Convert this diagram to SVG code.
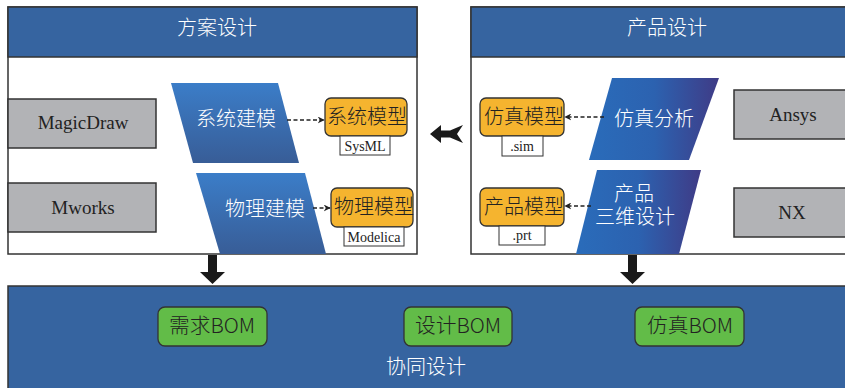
<svg xmlns="http://www.w3.org/2000/svg" width="845" height="388" viewBox="0 0 845 388">
<defs>
<linearGradient id="gV" x1="0" y1="0" x2="0" y2="1">
<stop offset="0" stop-color="#3b7dc8"/>
<stop offset="1" stop-color="#385d97"/>
</linearGradient>
<linearGradient id="gH" x1="0" y1="0" x2="1" y2="0">
<stop offset="0" stop-color="#2a6cba"/>
<stop offset="0.5" stop-color="#2c62b0"/>
<stop offset="1" stop-color="#3f3b86"/>
</linearGradient>
<marker id="ah" viewBox="0 0 10 10" refX="9" refY="5" markerWidth="7" markerHeight="7" orient="auto" markerUnits="userSpaceOnUse">
<path d="M0,0 L10,5 L0,10 L3,5 Z" fill="#222"/>
</marker>
</defs>
<style>
.panel{fill:#fff;stroke:#333;stroke-width:1.5}
.head{fill:#3664a0;stroke:#333;stroke-width:1.5}
.tool{fill:#b2b3b6;stroke:#333;stroke-width:1.5}
.model{fill:#f5b42f;stroke:#333;stroke-width:1.3}
.tag{fill:#fff;stroke:#333;stroke-width:1}
.bom{fill:#62bc48;stroke:#333;stroke-width:1.3}
.cjk{font-family:"Noto Sans CJK SC","Noto Sans",sans-serif;font-weight:300}
.wt{fill:#fff;font-size:20px;text-anchor:middle}
.bt{fill:#222;font-size:20px;text-anchor:middle}
.ser{font-family:"Liberation Serif","DejaVu Serif",serif;fill:#222;text-anchor:middle}
.dash{stroke:#222;stroke-width:1.5;stroke-dasharray:4 2.5;fill:none;marker-end:url(#ah)}
.big{fill:#1a1a1a}
</style>

<g id="panel-scheme">
<rect class="panel" x="8" y="7" width="409" height="247"/>
<rect class="head" x="8" y="7" width="409" height="50"/>
<text class="cjk wt" x="217" y="35">方案设计</text>
</g>

<g id="panel-product">
<rect class="panel" x="471" y="7" width="380" height="247"/>
<rect class="head" x="471" y="7" width="380" height="50"/>
<text class="cjk wt" x="667" y="35">产品设计</text>
</g>

<g id="panel-collab">
<rect class="head" x="8" y="286" width="843" height="110"/>
<text class="cjk wt" x="426" y="374">协同设计</text>
</g>

<g id="magicdraw">
<rect class="tool" x="8" y="99" width="148" height="49"/>
<text class="ser" x="83" y="129" font-size="19">MagicDraw</text>
</g>
<g id="mworks">
<rect class="tool" x="8" y="183" width="148" height="49"/>
<text class="ser" x="83" y="214" font-size="19">Mworks</text>
</g>

<g id="sys-modeling">
<polygon points="171,83 278,83 299,163 193,163" fill="url(#gV)"/>
<text class="cjk wt" x="236" y="126">系统建模</text>
</g>
<g id="phy-modeling">
<polygon points="196,173 305,173 326,254 220,254" fill="url(#gV)"/>
<text class="cjk wt" x="265" y="216">物理建模</text>
</g>

<g id="sys-model">
<rect class="model" x="325" y="98" width="82" height="38" rx="6"/>
<text class="cjk bt" x="367" y="124" font-size="21">系统模型</text>
<rect class="tag" x="340" y="136" width="50" height="19"/>
<text class="ser" x="365" y="151" font-size="14">SysML</text>
</g>
<g id="phy-model">
<rect class="model" x="331" y="188" width="82" height="39" rx="6"/>
<text class="cjk bt" x="374" y="214" font-size="21">物理模型</text>
<rect class="tag" x="344" y="227" width="60" height="19"/>
<text class="ser" x="374" y="242" font-size="14">Modelica</text>
</g>

<g id="sim-model">
<rect class="model" x="480" y="98" width="84" height="38" rx="6"/>
<text class="cjk bt" x="524" y="124" font-size="21">仿真模型</text>
<rect class="tag" x="502" y="136" width="41" height="20"/>
<text class="ser" x="522" y="151" font-size="14">.sim</text>
</g>
<g id="prod-model">
<rect class="model" x="480" y="188" width="84" height="38" rx="6"/>
<text class="cjk bt" x="524" y="214" font-size="21">产品模型</text>
<rect class="tag" x="499" y="226" width="46" height="19"/>
<text class="ser" x="522" y="240" font-size="14">.prt</text>
</g>

<g id="sim-analysis">
<polygon points="612,78 719,78 689,160 589,160" fill="url(#gH)"/>
<text class="cjk wt" x="654" y="126">仿真分析</text>
</g>
<g id="prod-3d">
<polygon points="597,170 701,170 679,254 576,254" fill="url(#gH)"/>
<text class="cjk wt" font-size="19"><tspan x="634" y="201">产品</tspan><tspan x="635" y="224">三维设计</tspan></text>
</g>

<g id="ansys">
<rect class="tool" x="734" y="90" width="120" height="49"/>
<text class="ser" x="793" y="121" font-size="19">Ansys</text>
</g>
<g id="nx">
<rect class="tool" x="734" y="188" width="120" height="49"/>
<text class="ser" x="792" y="219" font-size="19">NX</text>
</g>

<g id="bom-req">
<rect class="bom" x="158" y="307" width="109" height="39" rx="7"/>
<text class="cjk bt" x="212" y="333" textLength="86" lengthAdjust="spacingAndGlyphs">需求BOM</text>
</g>
<g id="bom-design">
<rect class="bom" x="404" y="307" width="108" height="39" rx="7"/>
<text class="cjk bt" x="458" y="333" textLength="86" lengthAdjust="spacingAndGlyphs">设计BOM</text>
</g>
<g id="bom-sim">
<rect class="bom" x="635" y="307" width="109" height="39" rx="7"/>
<text class="cjk bt" x="690" y="333" textLength="86" lengthAdjust="spacingAndGlyphs">仿真BOM</text>
</g>

<g id="connectors">
<line class="dash" x1="287" y1="120" x2="324" y2="120"/>
<line class="dash" x1="313" y1="208" x2="330" y2="208"/>
<line class="dash" x1="604" y1="117" x2="565" y2="117"/>
<line class="dash" x1="591" y1="206" x2="565" y2="206"/>
<polygon class="big" points="430,134 441,125 441,130.5 450,130.5 463,125 457,134 463,143 450,137.5 441,137.5 441,143"/>
<polygon class="big" points="208,255 217,255 217,272 225,272 212.5,284 200,272 208,272"/>
<polygon class="big" points="628,255 637,255 637,272 645,272 632.5,284 620,272 628,272"/>
</g>
</svg>
